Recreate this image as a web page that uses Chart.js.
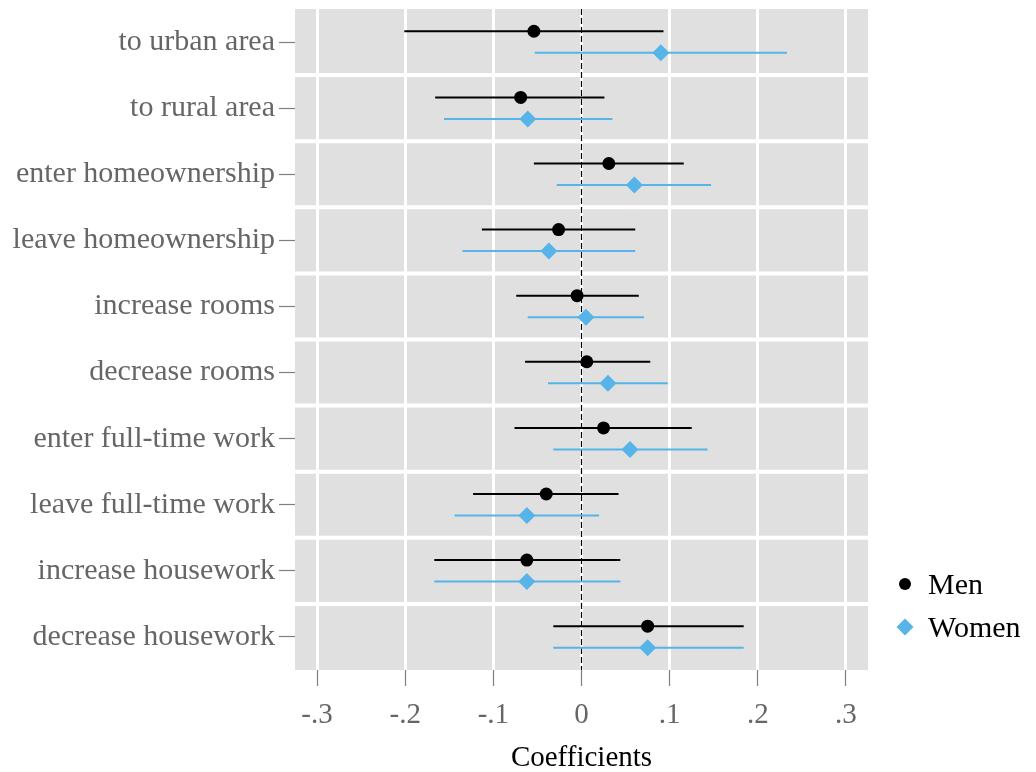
<!DOCTYPE html>
<html>
<head>
<meta charset="utf-8">
<script src="https://cdn.jsdelivr.net/npm/chart.js@4/dist/chart.umd.min.js"></script>
<style>
  html, body { margin: 0; padding: 0; background: #fff; }
  #wrap { width: 1036px; height: 772px; position: relative; }
</style>
</head>
<body>
<div id="wrap"><canvas id="coefChart"></canvas></div>
<script>
const categories = ['to urban area', 'to rural area', 'enter homeownership', 'leave homeownership',
  'increase rooms', 'decrease rooms', 'enter full-time work', 'leave full-time work',
  'increase housework', 'decrease housework'];
const menCoef = [-0.054, -0.069, 0.031, -0.026, -0.005, 0.006, 0.025, -0.040, -0.062, 0.075];
const menLow = [-0.201, -0.166, -0.054, -0.113, -0.074, -0.064, -0.076, -0.123, -0.167, -0.032];
const menHigh = [0.093, 0.026, 0.116, 0.061, 0.065, 0.078, 0.125, 0.042, 0.044, 0.184];
const womenCoef = [0.090, -0.061, 0.060, -0.037, 0.005, 0.030, 0.055, -0.062, -0.062, 0.075];
const womenLow = [-0.053, -0.156, -0.028, -0.135, -0.061, -0.038, -0.032, -0.144, -0.167, -0.032];
const womenHigh = [0.233, 0.035, 0.147, 0.061, 0.071, 0.098, 0.143, 0.020, 0.044, 0.184];
const xTicks = [-0.3, -0.2, -0.1, 0, 0.1, 0.2, 0.3];
const xTickLabels = ['-.3', '-.2', '-.1', '0', '.1', '.2', '.3'];
const seriesNames = ['Men', 'Women'];

const MEN_COLOR = '#000000';
const WOMEN_COLOR = '#56B4E9';
const FONT = "'Liberation Serif', 'Times New Roman', serif";
// each facet row spans one unit on y; men sit in the upper third, women in the lower
const MEN_OFF = 0.337;
const WOMEN_OFF = 0.663;

Chart.defaults.font.family = FONT;

function pts(vals, off) {
  return vals.map(function (v, i) { return { x: v, y: i + off }; });
}
function bars(lo, hi, off) {
  return lo.map(function (v, i) { return { x: [v, hi[i]], y: i + off }; });
}

// grey panel + white strips between facets
const panelPlugin = {
  id: 'panel',
  beforeDraw: function (chart) {
    const a = chart.chartArea;
    const ctx = chart.ctx;
    ctx.save();
    ctx.fillStyle = '#E0E0E0';
    ctx.fillRect(a.left, a.top, a.right - a.left, a.bottom - a.top);
    ctx.restore();
  },
  beforeDatasetsDraw: function (chart) {
    const a = chart.chartArea;
    const ctx = chart.ctx;
    const ys = chart.scales.y;
    ctx.save();
    ctx.strokeStyle = '#ffffff';
    ctx.lineWidth = 4;
    for (let k = 1; k < categories.length; k++) {
      const py = ys.getPixelForValue(k);
      ctx.beginPath();
      ctx.moveTo(a.left, py);
      ctx.lineTo(a.right, py);
      ctx.stroke();
    }
    ctx.restore();
  }
};

// legend to the lower right of the panel
const legendPlugin = {
  id: 'sideLegend',
  afterDraw: function (chart) {
    const a = chart.chartArea;
    const ctx = chart.ctx;
    const mx = a.right + 37;
    const tx = a.right + 60;
    const y1 = a.bottom - 86;
    const y2 = a.bottom - 43;
    ctx.save();
    ctx.fillStyle = MEN_COLOR;
    ctx.beginPath();
    ctx.arc(mx, y1, 6, 0, Math.PI * 2);
    ctx.fill();
    ctx.fillStyle = WOMEN_COLOR;
    ctx.beginPath();
    ctx.moveTo(mx, y2 - 8.5);
    ctx.lineTo(mx + 8.5, y2);
    ctx.lineTo(mx, y2 + 8.5);
    ctx.lineTo(mx - 8.5, y2);
    ctx.closePath();
    ctx.fill();
    ctx.fillStyle = '#000';
    ctx.font = '30px ' + FONT;
    ctx.textBaseline = 'middle';
    ctx.textAlign = 'left';
    ctx.fillText(seriesNames[0], tx, y1 + 2);
    ctx.fillText(seriesNames[1], tx, y2 + 2);
    ctx.restore();
  }
};

new Chart(document.getElementById('coefChart'), {
  type: 'scatter',
  data: {
    datasets: [
      {
        label: seriesNames[0],
        data: pts(menCoef, MEN_OFF),
        pointStyle: 'circle',
        pointRadius: 6.5,
        pointBackgroundColor: MEN_COLOR,
        pointBorderWidth: 0
      },
      {
        label: seriesNames[1],
        data: pts(womenCoef, WOMEN_OFF),
        pointStyle: 'rectRot',
        pointRadius: 8.5,
        pointBackgroundColor: WOMEN_COLOR,
        pointBorderWidth: 0
      },
      {
        type: 'bar',
        indexAxis: 'y',
        label: 'Men CI',
        data: bars(menLow, menHigh, MEN_OFF),
        backgroundColor: MEN_COLOR,
        barThickness: 2,
        grouped: false,
        inflateAmount: 0,
        borderWidth: 0
      },
      {
        type: 'bar',
        indexAxis: 'y',
        label: 'Women CI',
        data: bars(womenLow, womenHigh, WOMEN_OFF),
        backgroundColor: WOMEN_COLOR,
        barThickness: 2,
        grouped: false,
        inflateAmount: 0,
        borderWidth: 0
      },
      {
        label: 'zero',
        data: [{ x: 0, y: 0 }, { x: 0, y: categories.length }],
        showLine: true,
        borderColor: '#000',
        borderWidth: 1.2,
        borderDash: [6, 3],
        pointRadius: 0
      }
    ]
  },
  options: {
    responsive: true,
    maintainAspectRatio: false,
    animation: false,
    layout: { padding: { top: 9, right: 168, left: 0, bottom: 0 } },
    plugins: {
      legend: { display: false },
      tooltip: { enabled: false }
    },
    scales: {
      x: {
        type: 'linear',
        min: -0.325,
        max: 0.325,
        offset: false,
        afterBuildTicks: function (scale) {
          scale.ticks = xTicks.map(function (v) { return { value: v }; });
        },
        afterFit: function (scale) { scale.height = 102; },
        ticks: {
          color: '#666666',
          font: { size: 29 },
          padding: 12,
          maxRotation: 0,
          callback: function (v) { return xTickLabels[xTicks.indexOf(v)]; }
        },
        grid: {
          color: '#ffffff',
          lineWidth: 3,
          offset: false,
          tickColor: '#7F7F7F',
          tickWidth: 1.2,
          tickLength: 16
        },
        border: { display: false },
        title: {
          display: true,
          text: 'Coefficients',
          color: '#000',
          font: { size: 29 },
          padding: { top: 0, bottom: -4 }
        }
      },
      y: {
        type: 'linear',
        min: 0,
        max: categories.length,
        reverse: true,
        offset: false,
        afterBuildTicks: function (scale) {
          scale.ticks = categories.map(function (c, i) { return { value: i + 0.5 }; });
        },
        afterFit: function (scale) {
          scale.width = 295;
          scale.paddingTop = 0;
          scale.paddingBottom = 0;
        },
        ticks: {
          color: '#666666',
          font: { size: 30 },
          padding: 4,
          callback: function (v) { return categories[Math.floor(v)]; }
        },
        grid: {
          drawOnChartArea: false,
          offset: false,
          tickColor: '#7F7F7F',
          tickWidth: 1.2,
          tickLength: 16
        },
        border: { display: false }
      }
    }
  },
  plugins: [panelPlugin, legendPlugin]
});
</script>
</body>
</html>
